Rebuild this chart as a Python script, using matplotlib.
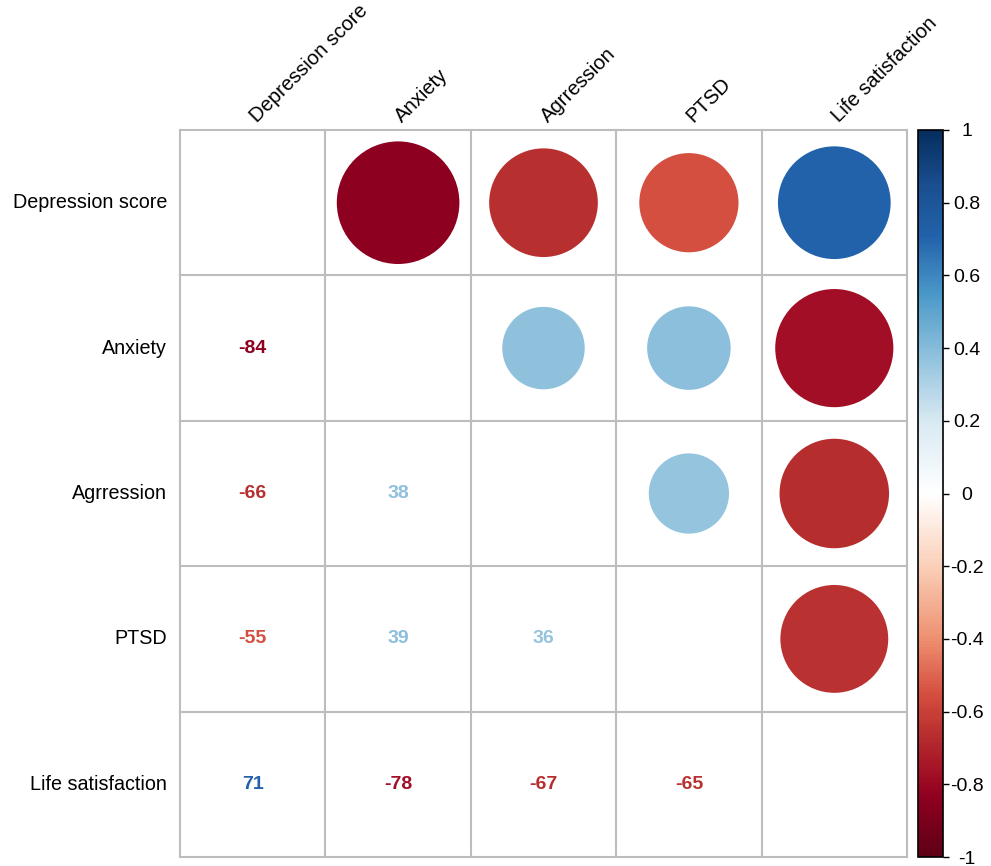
import numpy as np
import matplotlib.pyplot as plt
from matplotlib.colors import LinearSegmentedColormap, Normalize
from matplotlib.patches import Circle
import matplotlib as mpl

plt.rcParams['font.family'] = ['Liberation Sans', 'DejaVu Sans']

labels = ['Depression score', 'Anxiety', 'Agrression', 'PTSD', 'Life satisfaction']

# correlation matrix
corr = np.array([
    [1.00, -0.84, -0.66, -0.55, 0.71],
    [-0.84, 1.00, 0.38, 0.39, -0.78],
    [-0.66, 0.38, 1.00, 0.36, -0.67],
    [-0.55, 0.39, 0.36, 1.00, -0.65],
    [0.71, -0.78, -0.67, -0.65, 1.00],
])

cb_ticks = [1, 0.8, 0.6, 0.4, 0.2, 0, -0.2, -0.4, -0.6, -0.8, -1]

# red-white-blue ramp, anchors
ramp_pos = [-1, -0.84, -0.78, -0.66, -0.55, -0.4, -0.2, 0, 0.2, 0.38, 0.55, 0.71, 0.85, 1]
ramp_col = ['#5e0016', '#8e0020', '#a10e25', '#b8302f', '#d55040', '#ee9070', '#fad0b8',
            '#ffffff', '#d8e9f2', '#8fc1dd', '#4a98c8', '#2262aa', '#1a4f90', '#062e5e']
cmap = LinearSegmentedColormap.from_list(
    'corr', [((p + 1) / 2, c) for p, c in zip(ramp_pos, ramp_col)], N=256)
norm = Normalize(-1, 1)

fig = plt.figure(figsize=(9.91, 8.66), dpi=100)
W, H = 991, 866
ax = fig.add_axes([180 / W, (866 - 857) / H, 727 / W, 727 / H])
n = len(labels)
ax.set_xlim(0, n)
ax.set_ylim(n, 0)
ax.axis('off')

grid_col = '#bdbdbd'
for k in range(n + 1):
    ax.plot([k, k], [0, n], color=grid_col, lw=1.5, zorder=1, clip_on=False)
    ax.plot([0, n], [k, k], color=grid_col, lw=1.5, zorder=1, clip_on=False)

for i in range(n):
    for j in range(n):
        if i == j:
            continue
        r = corr[i, j]
        c = cmap(norm(r))
        if j > i:
            rad = 0.46 * np.sqrt(abs(r))
            ax.add_patch(Circle((j + 0.5, i + 0.5), rad, color=c, lw=0, zorder=2))
        else:
            ax.text(j + 0.5, i + 0.5, f"{int(round(r * 100))}", color=c,
                    ha='center', va='center', fontsize=14, fontweight='bold')

for i, lab in enumerate(labels):
    ax.text(-0.09, i + 0.5, lab, ha='right', va='center', fontsize=14.2)
    ax.text(i + 0.55, -0.03, lab, ha='left', va='bottom', rotation=45,
            rotation_mode='anchor', fontsize=14.6)

cax = fig.add_axes([918 / W, (866 - 857) / H, 25 / W, 727 / H])
cb = mpl.colorbar.ColorbarBase(cax, cmap=cmap, norm=norm, ticks=cb_ticks)
cb.outline.set_linewidth(1.2)
cb.ax.set_yticklabels([f"{t:g}" for t in cb_ticks])
cb.ax.tick_params(labelsize=14, length=4, width=1, pad=13)
for t in cb.ax.get_yticklabels():
    t.set_horizontalalignment('center')

fig.savefig('out.png', dpi=100)
